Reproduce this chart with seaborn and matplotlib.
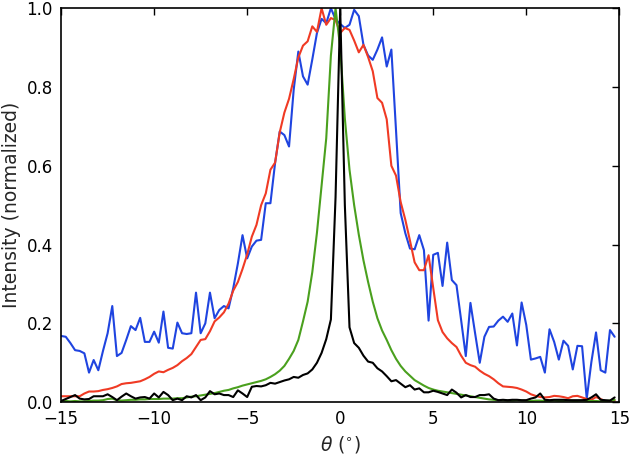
import numpy as np
import pandas as pd
import matplotlib
matplotlib.use("Agg")
import matplotlib.pyplot as plt
import seaborn as sns

# angle grid, 0.25 deg steps
theta = np.arange(-15, 15, 0.25)

blue = [0.168, 0.166, 0.150, 0.132, 0.130, 0.124, 0.075, 0.107, 0.081, 0.130,
        0.175, 0.244, 0.117, 0.125, 0.158, 0.193, 0.183, 0.214, 0.153, 0.153,
        0.179, 0.151, 0.230, 0.138, 0.136, 0.202, 0.175, 0.173, 0.175, 0.278,
        0.175, 0.200, 0.278, 0.213, 0.234, 0.244, 0.238, 0.289, 0.352, 0.424,
        0.365, 0.395, 0.410, 0.412, 0.505, 0.505, 0.607, 0.687, 0.678, 0.649,
        0.793, 0.890, 0.827, 0.806, 0.870, 0.937, 0.973, 0.962, 1.000, 0.972,
        0.960, 0.950, 0.958, 0.996, 0.980, 0.907, 0.880, 0.869, 0.895, 0.926,
        0.852, 0.895, 0.690, 0.480, 0.429, 0.390, 0.388, 0.424, 0.386, 0.207,
        0.374, 0.379, 0.295, 0.405, 0.310, 0.297, 0.208, 0.117, 0.252, 0.175,
        0.100, 0.166, 0.191, 0.192, 0.207, 0.217, 0.204, 0.225, 0.144, 0.253,
        0.196, 0.108, 0.111, 0.115, 0.075, 0.185, 0.153, 0.108, 0.156, 0.143,
        0.083, 0.143, 0.142, 0.009, 0.102, 0.177, 0.081, 0.075, 0.183, 0.166]

red = [0.015, 0.015, 0.015, 0.015, 0.015, 0.022, 0.027, 0.027, 0.028, 0.031,
       0.033, 0.036, 0.040, 0.046, 0.048, 0.049, 0.051, 0.053, 0.058, 0.064,
       0.072, 0.078, 0.076, 0.082, 0.087, 0.094, 0.104, 0.112, 0.122, 0.140,
       0.158, 0.160, 0.180, 0.205, 0.215, 0.228, 0.250, 0.283, 0.305, 0.338,
       0.375, 0.420, 0.450, 0.500, 0.530, 0.590, 0.608, 0.685, 0.735, 0.770,
       0.820, 0.875, 0.905, 0.916, 0.954, 0.940, 1.000, 0.958, 0.975, 0.970,
       0.937, 0.950, 0.945, 0.918, 0.888, 0.907, 0.876, 0.840, 0.772, 0.760,
       0.718, 0.600, 0.575, 0.508, 0.463, 0.410, 0.355, 0.335, 0.335, 0.373,
       0.290, 0.208, 0.178, 0.162, 0.150, 0.140, 0.118, 0.100, 0.094, 0.090,
       0.080, 0.072, 0.066, 0.058, 0.048, 0.040, 0.039, 0.038, 0.036, 0.032,
       0.027, 0.020, 0.016, 0.013, 0.012, 0.013, 0.016, 0.015, 0.013, 0.010,
       0.015, 0.016, 0.012, 0.008, 0.006, 0.013, 0.008, 0.002, 0.003, 0.004]

green = [0.003, 0.003, 0.002, 0.003, 0.002, 0.002, 0.003, 0.004, 0.004, 0.005,
         0.008, 0.009, 0.005, 0.004, 0.005, 0.006, 0.006, 0.007, 0.007, 0.008,
         0.008, 0.008, 0.009, 0.009, 0.009, 0.010, 0.010, 0.012, 0.014, 0.015,
         0.017, 0.019, 0.021, 0.023, 0.026, 0.029, 0.031, 0.035, 0.038, 0.042,
         0.045, 0.048, 0.051, 0.054, 0.058, 0.064, 0.071, 0.080, 0.092, 0.110,
         0.130, 0.158, 0.205, 0.255, 0.330, 0.430, 0.550, 0.670, 0.880, 1.000,
         0.900, 0.720, 0.590, 0.500, 0.425, 0.360, 0.305, 0.255, 0.213, 0.182,
         0.158, 0.132, 0.110, 0.092, 0.078, 0.067, 0.056, 0.049, 0.042, 0.036,
         0.032, 0.029, 0.027, 0.025, 0.023, 0.021, 0.019, 0.017, 0.015, 0.013,
         0.011, 0.009, 0.007, 0.006, 0.005, 0.005, 0.004, 0.004, 0.005, 0.004,
         0.004, 0.003, 0.004, 0.004, 0.003, 0.003, 0.004, 0.003, 0.003, 0.004,
         0.003, 0.003, 0.004, 0.003, 0.003, 0.003, 0.002, 0.003, 0.004, 0.006]

black = [0.003, 0.008, 0.013, 0.018, 0.009, 0.007, 0.008, 0.015, 0.015, 0.015,
         0.020, 0.013, 0.005, 0.014, 0.022, 0.015, 0.009, 0.012, 0.013, 0.009,
         0.022, 0.012, 0.026, 0.018, 0.005, 0.009, 0.005, 0.015, 0.012, 0.018,
         0.005, 0.012, 0.028, 0.020, 0.022, 0.018, 0.018, 0.013, 0.030, 0.022,
         0.013, 0.039, 0.041, 0.040, 0.043, 0.049, 0.047, 0.051, 0.055, 0.058,
         0.064, 0.062, 0.069, 0.073, 0.083, 0.100, 0.125, 0.160, 0.210, 0.520,
         1.000, 0.500, 0.190, 0.150, 0.138, 0.118, 0.103, 0.100, 0.086, 0.078,
         0.066, 0.053, 0.056, 0.047, 0.038, 0.043, 0.032, 0.035, 0.025, 0.025,
         0.029, 0.026, 0.022, 0.018, 0.032, 0.024, 0.012, 0.018, 0.013, 0.013,
         0.018, 0.018, 0.020, 0.009, 0.005, 0.006, 0.005, 0.006, 0.006, 0.005,
         0.005, 0.009, 0.012, 0.022, 0.006, 0.005, 0.006, 0.006, 0.006, 0.005,
         0.005, 0.005, 0.005, 0.006, 0.012, 0.020, 0.006, 0.005, 0.004, 0.012]

series = {"blue": blue, "red": red, "green": green, "black": black}
colors = {"blue": "#1f44e0", "red": "#f03a24", "green": "#4aa01e", "black": "#000000"}

df = pd.concat([pd.DataFrame({"theta": theta, "intensity": v, "sample": k})
                for k, v in series.items()], ignore_index=True)

sns.set_style("white")
plt.rcParams["font.family"] = ["DejaVu Sans"]
plt.rcParams["mathtext.fontset"] = "dejavusans"

fig, ax = plt.subplots(figsize=(6.3, 4.57), dpi=100)
fig.subplots_adjust(left=0.097, right=0.983, bottom=0.12, top=0.982)

sns.lineplot(data=df, x="theta", y="intensity", hue="sample", palette=colors,
             estimator=None, sort=False, linewidth=1.5, legend=False, ax=ax)

ax.set_xlim(-15, 15)
ax.set_ylim(0, 1)
ax.set_xticks([-15, -10, -5, 0, 5, 10, 15])
ax.set_yticks([0.0, 0.2, 0.4, 0.6, 0.8, 1.0])
ax.set_yticklabels(["0.0", "0.2", "0.4", "0.6", "0.8", "1.0"])
ax.tick_params(direction="in", top=True, right=True, length=5, width=1,
               labelsize=12, pad=6, colors="black")
for s in ax.spines.values():
    s.set_color("black")
    s.set_linewidth(1.2)

ax.set_xlabel(r"$\theta$ $(^{\circ})$", fontsize=13.5)
ax.set_ylabel("Intensity (normalized)", fontsize=13.5)

fig.savefig("out.png", dpi=100)
